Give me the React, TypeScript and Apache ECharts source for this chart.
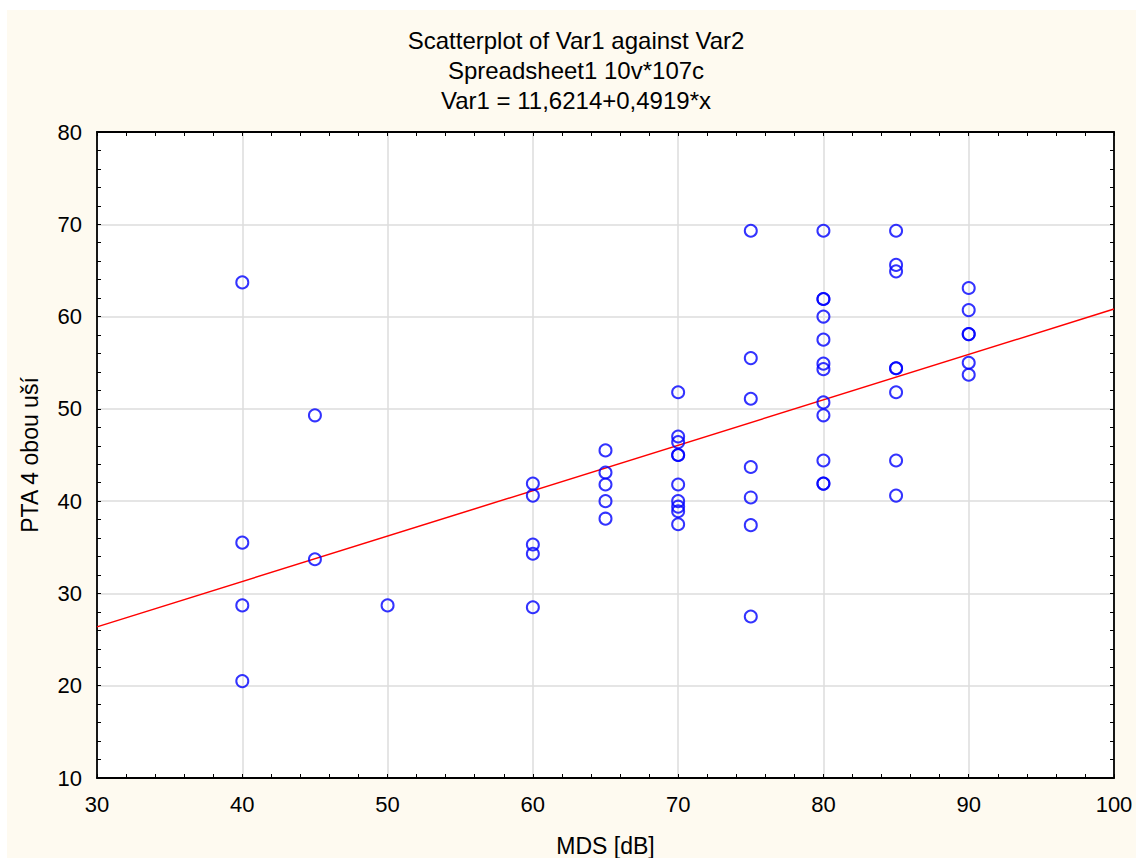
import React, { useEffect, useRef } from "react";
import * as echarts from "echarts";

const titleLines = [
  "Scatterplot of Var1 against Var2",
  "Spreadsheet1 10v*107c",
  "Var1 = 11,6214+0,4919*x",
];
const xAxisName = "MDS [dB]";
const yAxisName = "PTA 4 obou uší";

const mdsValues = [
  40, 40, 40, 40,
  45, 45,
  50,
  60, 60, 60, 60, 60,
  65, 65, 65, 65, 65,
  70, 70, 70, 70, 70, 70, 70, 70, 70, 70,
  75, 75, 75, 75, 75, 75, 75,
  80, 80, 80, 80, 80, 80, 80, 80, 80, 80, 80, 80,
  85, 85, 85, 85, 85, 85, 85, 85,
  90, 90, 90, 90, 90, 90,
];
const ptaValues = [
  63.7, 35.5, 28.7, 20.5,
  49.3, 33.7,
  28.7,
  41.9, 40.6, 35.3, 34.3, 28.5,
  45.5, 43.1, 41.8, 40.0, 38.1,
  51.8, 47.0, 46.4, 45.0, 45.0, 41.8, 40.0, 39.4, 38.9, 37.5,
  69.3, 55.5, 51.1, 43.7, 40.4, 37.4, 27.5,
  69.3, 61.9, 61.9, 60.0, 57.5, 54.9, 54.3, 50.7, 49.3, 44.4, 41.9, 41.9,
  69.3, 65.6, 64.9, 54.4, 54.4, 51.8, 44.4, 40.6,
  63.1, 60.7, 58.1, 58.1, 55.0, 53.7,
];
const fitIntercept = 11.6214;
const fitSlope = 0.4919;
const fitXRange = [30, 100];

const FONT = "'Liberation Sans', Arial, sans-serif";

export default function App() {
  const ref = useRef<HTMLDivElement>(null);
  useEffect(() => {
    if (!ref.current) return;
    const chart = echarts.init(ref.current, undefined, { renderer: "svg" });
    const points = mdsValues.map((x, i) => [x, ptaValues[i]]);
    const fitLine = fitXRange.map((x) => [x, fitIntercept + fitSlope * x]);
    const tickCommon = {
      axisLine: { show: true, lineStyle: { color: "#000", width: 1.8 } },
      axisTick: { show: true, inside: true, length: 4, lineStyle: { color: "#000", width: 1 } },
      minorTick: { show: true, splitNumber: 5, length: 4, lineStyle: { color: "#000", width: 1 } },
    };
    chart.setOption({
      animation: false,
      backgroundColor: "#ffffff",
      textStyle: { fontFamily: FONT },
      graphic: [
        {
          type: "rect",
          z: -10,
          silent: true,
          shape: { x: 7, y: 10, width: 1136 - 7, height: 858 - 10 },
          style: { fill: "#fefaf0" },
        },
        ...titleLines.map((t, i) => ({
          type: "text",
          x: 576,
          y: 40 + i * 30,
          style: {
            text: t,
            fontSize: 24,
            fontFamily: FONT,
            fill: "#000",
            textAlign: "center",
            textVerticalAlign: "middle",
          },
        })),
      ],
      grid: {
        left: 97,
        top: 132,
        width: 1017,
        height: 646,
        show: true,
        backgroundColor: "#ffffff",
        borderColor: "#000",
        borderWidth: 0,
        containLabel: false,
        outerBoundsMode: "none",
      },
      xAxis: [
        {
          type: "value",
          min: 30,
          max: 100,
          interval: 10,
          position: "bottom",
          name: xAxisName,
          nameLocation: "middle",
          nameGap: 56,
          nameTextStyle: { fontSize: 23, color: "#000", fontFamily: FONT },
          axisLabel: { fontSize: 22, color: "#000", margin: 15, fontFamily: FONT },
          splitLine: { show: true, lineStyle: { color: "#dcdcdc", width: 1.5 } },
          ...tickCommon,
        },
        {
          type: "value",
          min: 30,
          max: 100,
          interval: 10,
          position: "top",
          axisLabel: { show: false },
          splitLine: { show: false },
          ...tickCommon,
        },
      ],
      yAxis: [
        {
          type: "value",
          min: 10,
          max: 80,
          interval: 10,
          position: "left",
          name: yAxisName,
          nameLocation: "middle",
          nameGap: 56,
          nameTextStyle: { fontSize: 23, color: "#000", fontFamily: FONT },
          axisLabel: { fontSize: 22, color: "#000", margin: 15, fontFamily: FONT },
          splitLine: { show: true, lineStyle: { color: "#dcdcdc", width: 1.5 } },
          ...tickCommon,
        },
        {
          type: "value",
          min: 10,
          max: 80,
          interval: 10,
          position: "right",
          axisLabel: { show: false },
          splitLine: { show: false },
          ...tickCommon,
        },
      ],
      series: [
        {
          type: "line",
          data: fitLine,
          showSymbol: false,
          symbol: "none",
          lineStyle: { color: "#ff0000", width: 1.5 },
          z: 2,
        },
        {
          type: "scatter",
          data: points,
          symbol: "circle",
          symbolSize: 12,
          itemStyle: { color: "rgba(0,0,0,0)", borderColor: "#0000ff", borderWidth: 2 },
          z: 3,
        },
      ],
    });
    return () => chart.dispose();
  }, []);
  return (
    <div
      ref={ref}
      style={{ position: "absolute", left: 0, top: 0, width: 1136, height: 858 }}
    />
  );
}
